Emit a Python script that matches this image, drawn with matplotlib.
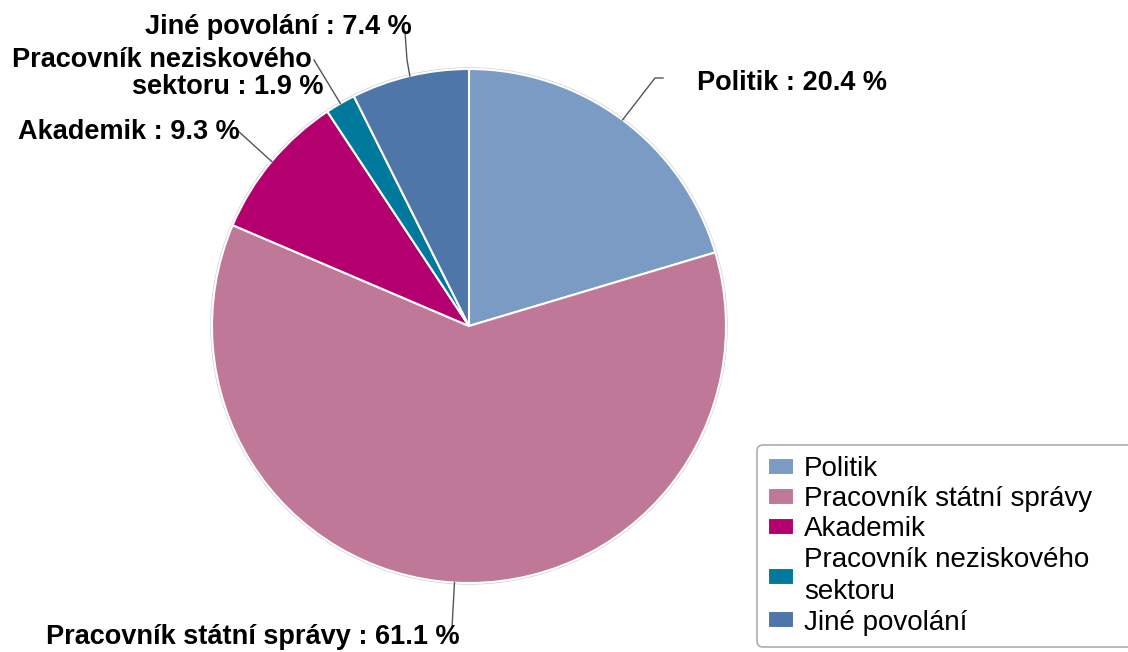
import numpy as np
import matplotlib.pyplot as plt
from matplotlib.patches import Circle

plt.rcParams['font.family'] = ['Liberation Sans', 'DejaVu Sans']

# data
labels = ['Politik', 'Pracovník státní správy', 'Akademik',
          'Pracovník neziskového\nsektoru', 'Jiné povolání']
values = [20.4, 61.1, 9.3, 1.9, 7.4]
colors = ['#7a9bc3', '#c07898', '#b4006e', '#00799c', '#4e76a8']

# layout (pixel coords, y up)
W, H = 1128, 652
cx, cy, R = 469, 326, 257
FS = 19.5

fig = plt.figure(figsize=(W / 100, H / 100), dpi=100)
ax = fig.add_axes([0, 0, 1, 1])

wedges, _ = ax.pie(values, colors=colors, startangle=90, counterclock=False,
                   center=(cx, cy), radius=R,
                   wedgeprops=dict(edgecolor='white', linewidth=1.5))
ax.add_patch(Circle((cx, cy), R + 1, fill=False, edgecolor='#d0d0d0', lw=1, zorder=0))

ax.set_xlim(0, W)
ax.set_ylim(0, H)
ax.set_aspect('equal')
ax.axis('off')

# per label: list of (right/left x, center y) for each text line, alignment, leader elbows
label_pos = [
    ([(697, 83)], 'left', [(655, 78), (663, 78)]),
    ([(460, 637)], 'right', [(452, 628)]),
    ([(240, 132)], 'right', [(237, 130)]),
    ([(312, 60), (323, 87)], 'right', [(314, 60)]),
    ([(412, 27)], 'right', [(407, 60), (405, 32)]),
]

total = sum(values)
start = 90.0
for i, (v, lab) in enumerate(zip(values, labels)):
    mid = start - v / total * 360 / 2
    start -= v / total * 360
    a = np.deg2rad(mid)
    px, py = cx + R * np.cos(a), cy + R * np.sin(a)
    lines, ha, elbows = label_pos[i]
    xs = [px] + [e[0] for e in elbows]
    ys = [py] + [H - e[1] for e in elbows]
    ax.plot(xs, ys, color='#555555', lw=1, zorder=1, clip_on=False)
    parts = f'{lab} : {v} %'.split('\n')
    for (tx, ty), part in zip(lines, parts):
        ax.text(tx, H - ty, part, ha=ha, va='center',
                fontsize=FS, fontweight='bold', color='black', zorder=5)

# legend runs off the right edge like in the original
leg = ax.legend(wedges, labels, loc='upper left', mode='expand',
                bbox_to_anchor=(757 / W, 0, 400 / W, 1 - 445 / H),
                bbox_transform=fig.transFigure,
                fontsize=20, frameon=True, fancybox=True, edgecolor='#999999',
                handlelength=0.92, handleheight=0.55, handletextpad=0.37,
                labelspacing=0.15, borderpad=0.4, borderaxespad=0)
leg.get_frame().set_linewidth(1.2)
for t in leg.get_texts():
    t.set_linespacing(1.34)

fig.savefig('out.png', dpi=100)
